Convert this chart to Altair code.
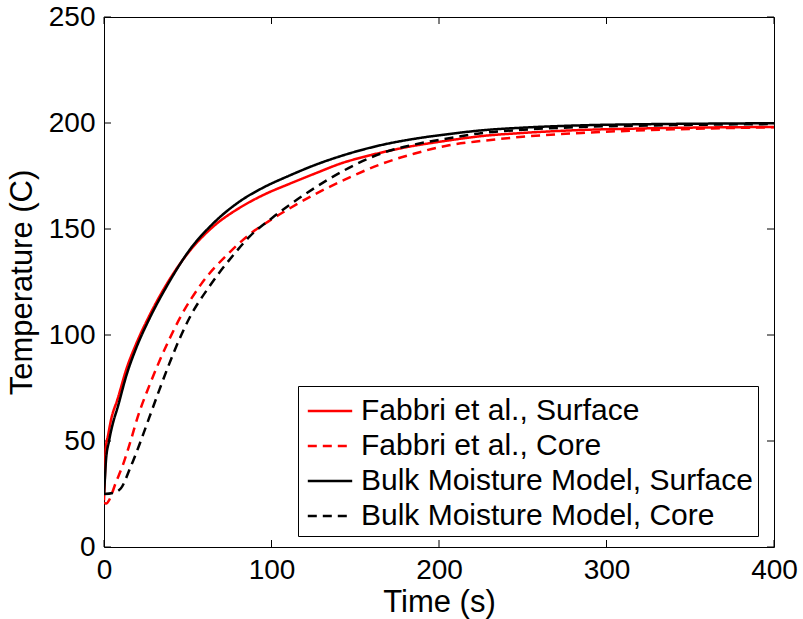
import altair as alt
import pandas as pd

FONT = "Liberation Sans"

series_names = [
    "Fabbri et al., Surface",
    "Fabbri et al., Core",
    "Bulk Moisture Model, Surface",
    "Bulk Moisture Model, Core",
]
series_colors = ["#ff0000", "#ff0000", "#000000", "#000000"]
series_dashes = [[1, 0], [9, 6], [1, 0], [9, 6]]

# Fabbri et al., Surface
fs_time = [0, 0.6, 1, 2.5, 4.2, 8.2, 13.4, 19.3, 27, 38.2, 51, 65, 81, 95, 111,
           127, 141, 160, 180, 206, 225, 250, 285, 320, 360, 400]
fs_temp = [22, 35, 46, 53, 60, 70, 84, 96, 109, 125, 139.5, 151, 160, 166,
           171.4, 176.5, 180.8, 185, 188.5, 191.8, 193.8, 195.3, 196.7, 197.4, 197.9, 198.1]

# Fabbri et al., Core
fc_time = [0, 1.5, 3, 7.2, 11.2, 16, 20, 27, 33, 39, 46, 58, 75, 87, 100, 111, 125,
           147, 165, 185, 206, 225, 250, 285, 340, 400]
fc_temp = [21, 20.5, 22, 30.7, 38.5, 50.3, 61, 76, 87.5, 98, 109, 124, 139,
           147.5, 154.5, 159.8, 166, 174.5, 180.5, 185.5, 189.5, 191.5, 193.5, 195.3, 197, 198]

# Bulk Moisture Model, Surface
bs_time = [0, 0.6, 1.2, 3, 5.2, 8.2, 13.4, 19.3, 27, 38.2, 51, 65, 81, 95, 111,
           127, 143, 165, 185, 206, 225, 250, 285, 320, 360, 400]
bs_temp = [25, 33, 41, 50, 58, 66, 81, 94, 107.5, 124, 140, 152.5, 163, 169.5,
           175.3, 180.5, 184.8, 189.5, 192.5, 194.8, 196.5, 197.8, 198.9, 199.4, 199.7, 199.9]

# Bulk Moisture Model, Core
bc_time = [0, 5.2, 10, 15.5, 21, 27, 33, 39, 45, 51, 63, 77, 87, 100, 111, 126,
           143, 165, 185, 206, 225, 250, 285, 340, 400]
bc_temp = [25, 25.5, 27.6, 37, 48, 61, 74, 86.5, 98, 108, 123, 137.5, 146.5, 155,
           161.5, 169.5, 177.5, 185.5, 189.8, 192.8, 195.2, 196.8, 198.1, 199, 199.5]

x_ticks = [0, 100, 200, 300, 400]
y_ticks = [0, 50, 100, 150, 200, 250]

rows = []
for name, ts, vs in zip(series_names,
                        [fs_time, fc_time, bs_time, bc_time],
                        [fs_temp, fc_temp, bs_temp, bc_temp]):
    for t, v in zip(ts, vs):
        rows.append({"series": name, "time": t, "temp": v})
df = pd.DataFrame(rows)

W, H = 670, 530
TICK = 7

legend = alt.Legend(
    title=None,
    orient="none",
    legendX=194,
    legendY=369,
    symbolType="M-1.2,0H1.2",
    symbolSize=1369,
    symbolStrokeWidth=2.5,
    symbolOffset=7,
    labelFont=FONT,
    labelFontSize=30,
    labelColor="black",
    labelOffset=11,
    labelLimit=600,
    rowPadding=0,
    padding=5,
    strokeColor="black",
    fillColor="white",
)

xscale = alt.Scale(domain=[0, 400], nice=False, zero=False)
yscale = alt.Scale(domain=[0, 250], nice=False, zero=False)

lines = alt.Chart(df).mark_line(strokeWidth=2.5, clip=True, interpolate="monotone").encode(
    x=alt.X("time:Q", scale=xscale,
            axis=alt.Axis(values=x_ticks, title="Time (s)", tickSize=0, domain=False,
                          grid=False, labelPadding=9, titlePadding=3, format="d",
                          labelFlush=False)),
    y=alt.Y("temp:Q", scale=yscale,
            axis=alt.Axis(values=y_ticks, title="Temperature (C)", tickSize=0, domain=False,
                          grid=False, labelPadding=9, titlePadding=10, format="d",
                          labelFlush=False)),
    color=alt.Color("series:N", sort=series_names,
                    scale=alt.Scale(domain=series_names, range=series_colors),
                    legend=legend),
    strokeDash=alt.StrokeDash("series:N", sort=series_names,
                              scale=alt.Scale(domain=series_names, range=series_dashes),
                              legend=legend),
)

xt = pd.DataFrame({"time": x_ticks})
yt = pd.DataFrame({"temp": y_ticks})

bottom_ticks = alt.Chart(xt).mark_rule(color="black", strokeWidth=1).encode(
    x=alt.X("time:Q", scale=xscale), y=alt.value(H), y2=alt.value(H - TICK))
top_ticks = alt.Chart(xt).mark_rule(color="black", strokeWidth=1).encode(
    x=alt.X("time:Q", scale=xscale), y=alt.value(0), y2=alt.value(TICK))
left_ticks = alt.Chart(yt).mark_rule(color="black", strokeWidth=1).encode(
    y=alt.Y("temp:Q", scale=yscale), x=alt.value(0), x2=alt.value(TICK))
right_ticks = alt.Chart(yt).mark_rule(color="black", strokeWidth=1).encode(
    y=alt.Y("temp:Q", scale=yscale), x=alt.value(W), x2=alt.value(W - TICK))

chart = alt.layer(bottom_ticks, top_ticks, left_ticks, right_ticks, lines).properties(
    width=W,
    height=H,
    autosize=alt.AutoSizeParams(type="none"),
    padding={"left": 104, "top": 17, "right": 29, "bottom": 72},
    background="white",
).configure_view(
    stroke="black", strokeWidth=1
).configure_axis(
    labelFont=FONT, labelFontSize=28, labelColor="black",
    titleFont=FONT, titleFontSize=31, titleColor="black", titleFontWeight="normal",
)

chart.save("out.html", embed_options={"renderer": "svg", "actions": False})
